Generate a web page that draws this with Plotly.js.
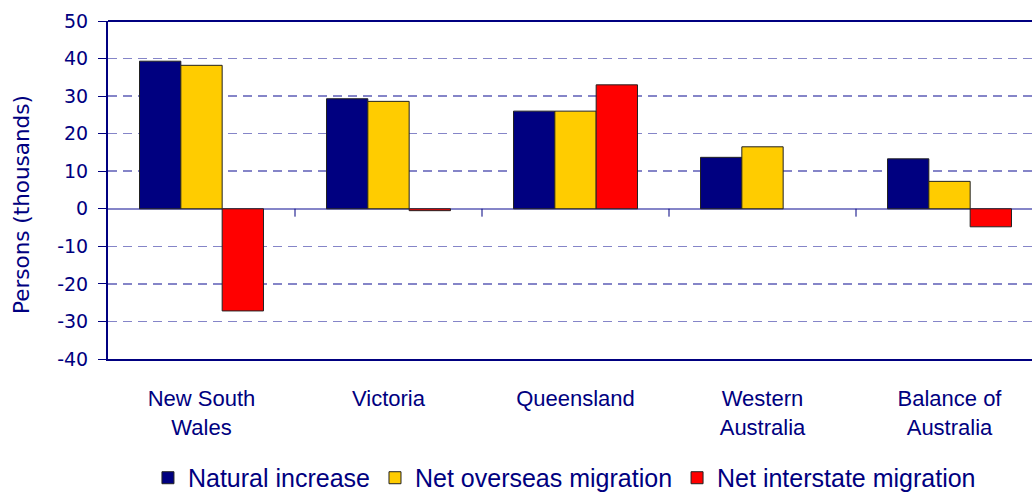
<!DOCTYPE html>
<html><head><meta charset="utf-8">
<script src="https://cdn.plot.ly/plotly-3.0.1.min.js"></script>
<style>html,body{margin:0;padding:0;background:#fff;overflow:hidden}</style>
</head><body><div id="chart" style="width:1032px;height:493px"></div>
<script>
var categories = ["New South<br>Wales", "Victoria", "Queensland", "Western<br>Australia", "Balance of<br>Australia"];
var naturalIncrease = [39.3, 29.3, 26.0, 13.7, 13.3];
var netOverseas = [38.2, 28.6, 26.0, 16.5, 7.3];
var netInterstate = [-27.2, -0.5, 33.0, null, -4.8];
var yTicks = [-40, -30, -20, -10, 0, 10, 20, 30, 40, 50];
var yTickText = ["-40", "-30", "-20", "-10", "0", "10", "20", "30", "40", "50"];

var navy = '#000080';
function bar(name, vals, color) {
  return {type: 'bar', name: name, x: categories, y: vals,
    marker: {color: color, line: {color: '#222', width: 1}}};
}
var data = [
  bar('Natural increase', naturalIncrease, '#000080'),
  bar('Net overseas migration', netOverseas, '#FFCC00'),
  bar('Net interstate migration', netInterstate, '#FF0000')
];

var n = categories.length;
var shapes = [];
for (var i = 0; i < n - 1; i++) {
  shapes.push({type: 'line', xref: 'x', yref: 'y', x0: i + 0.5, x1: i + 0.5, y0: 0, y1: -2.1,
    line: {color: navy, width: 1}});
}
shapes.push({type: 'line', xref: 'paper', yref: 'paper', x0: 0, x1: 1, y0: 1, y1: 1,
  line: {color: navy, width: 2}});

var layout = {
  width: 1032, height: 493,
  margin: {l: 108, r: 0, t: 21, b: 134, autoexpand: false},
  paper_bgcolor: '#fff', plot_bgcolor: '#fff',
  barmode: 'group', bargap: 0.337, bargroupgap: 0,
  font: {family: 'Liberation Sans, Arial, sans-serif', color: navy},
  xaxis: {
    type: 'category', range: [-0.5, n - 0.5 - 11/187],
    showline: true, linecolor: navy, linewidth: 2,
    ticks: '', showgrid: false, zeroline: false,
    ticklabelstandoff: 19,
    tickfont: {family: 'Liberation Sans, Arial, sans-serif', size: 22, color: navy}
  },
  yaxis: {
    range: [-40, 50], tickvals: yTicks, ticktext: yTickText,
    showline: true, linecolor: navy, linewidth: 2,
    ticks: 'outside', ticklen: 8, tickcolor: navy, tickwidth: 1,
    ticklabelstandoff: 6,
    showgrid: true, gridcolor: '#8585C8', griddash: '9px,6px', gridwidth: 1.5,
    zeroline: true, zerolinecolor: '#8585C8', zerolinewidth: 1.5,
    tickfont: {family: 'DejaVu Sans, Verdana, sans-serif', size: 19, color: navy}
  },
  annotations: [{
    text: 'Persons (thousands)', textangle: -90, showarrow: false,
    xref: 'paper', yref: 'paper', x: -0.0931, y: 0.4586, xanchor: 'center', yanchor: 'middle',
    font: {family: 'DejaVu Sans, Verdana, sans-serif', size: 21.5, color: navy}
  }],
  showlegend: true,
  legend: {orientation: 'h', x: 0.494, xanchor: 'center', y: -0.352, yanchor: 'middle',
    font: {family: 'Liberation Sans, Arial, sans-serif', size: 25, color: navy},
    itemwidth: 30, tracegroupgap: 0},
  shapes: shapes
};
Plotly.newPlot('chart', data, layout, {displayModeBar: false, staticPlot: true});
</script></body></html>
